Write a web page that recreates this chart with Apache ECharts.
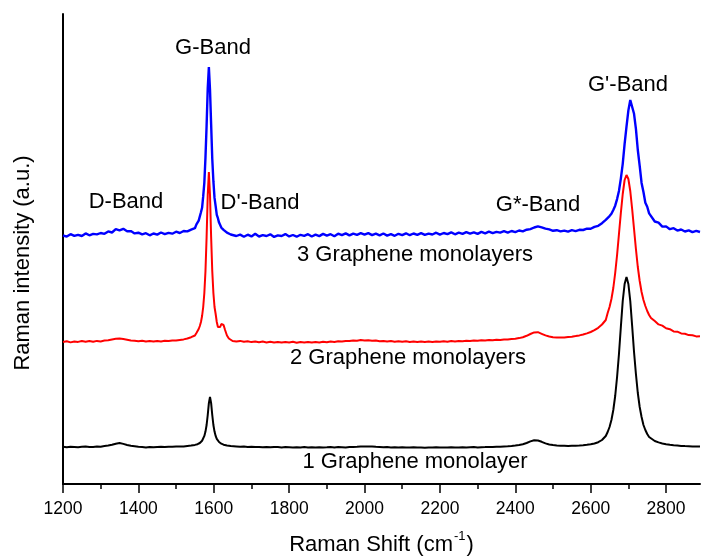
<!DOCTYPE html>
<html>
<head>
<meta charset="utf-8">
<script src="https://cdn.jsdelivr.net/npm/echarts@6/dist/echarts.min.js"></script>
<style>
html,body{margin:0;padding:0;background:#fff;}
#chart{width:701px;height:558px;}
</style>
</head>
<body>
<div id="chart"></div>
<script>
// Raman shift (cm^-1)
const ramanShift = [
1200,1210,1220,1230,1240,1250,1260,1270,1280,1290,1300,1310,1320,1330,1340,1350,1360,1370,1380,1390,1400,1410,1420,1430,1440,1450,1460,1470,1480,1490,1500,1510,1520,1530,1540,1550,
1554,1557,1560,1563,1566,1569,1572,1575,1578,1581,1584,1587,1590,1593,1596,1599,1602,1605,1608,1611,1614,1617,1620,1623,1626,1630,1635,1640,1645,
1650,1660,1670,1680,1690,1700,1710,1720,1730,1740,
1750,1760,1770,1780,1790,1800,1810,1820,1830,1840,
1850,1860,1870,1880,1890,1900,1910,1920,1930,1940,
1950,1960,1970,1980,1990,2000,2010,2020,2030,2040,
2050,2060,2070,2080,2090,2100,2110,2120,2130,2140,
2150,2160,2170,2180,2190,2200,2210,2220,2230,2240,
2250,2260,2270,2280,2290,2300,2310,2320,2330,2340,
2350,2360,2370,2380,2390,2400,2410,2420,2430,2440,
2450,2460,2470,2480,2490,2500,2510,2520,2530,2540,
2550,2560,2570,2580,2590,2600,2610,2620,2630,2640,
2645,2650,2655,2660,2665,2670,2675,2680,2685,2690,2695,2700,2705,2710,2715,2720,2725,2730,2735,2740,2745,2750,2755,2760,
2770,2780,2790,2800,2810,2820,2830,2840,2850,2860,2870,2880,2890
];

// 1 graphene monolayer (black, lowest trace)
const oneLayer = [
37.2,36.8,37.3,37.0,36.7,37.2,37.4,36.9,37.1,37.5,37.3,37.9,38.4,39.2,40.3,41.0,40.1,39.0,38.2,37.8,37.2,37.0,36.6,37.1,36.8,37.0,37.2,36.9,37.3,37.2,37.5,37.6,37.6,38.1,38.4,39.1,
39.4,39.8,40.3,41.0,42.0,43.3,45.2,48.1,52.4,59.0,69.0,80.8,87.0,80.8,69.0,59.0,52.4,48.1,45.2,43.3,42.0,41.0,40.3,39.8,39.3,38.9,38.5,38.2,38.0,
37.8,37.6,37.3,37.4,37.0,37.2,36.9,37.1,36.8,37.0,
36.7,37.0,36.9,36.6,36.9,36.7,36.5,36.8,36.6,36.9,
36.5,36.7,36.4,36.8,36.6,36.7,36.9,36.6,37.0,36.8,
36.6,36.9,37.1,37.2,37.5,37.6,37.4,37.5,37.2,37.0,
36.8,36.9,36.6,36.7,36.5,36.8,36.6,36.4,36.7,36.5,
36.6,36.3,36.6,36.4,36.7,36.5,36.6,36.4,36.7,36.5,
36.6,36.8,36.5,36.7,36.9,36.6,36.8,36.9,37.1,36.9,
37.2,37.3,37.5,37.7,38.0,38.4,38.9,39.7,41.0,42.6,
43.8,43.5,42.2,40.6,39.5,38.9,38.5,38.3,38.2,38.1,
38.2,38.3,38.5,38.8,39.2,39.7,40.5,41.8,44.0,48.0,
52,57,64,74,88,107,130,157,183,200,207,200,183,158,132,110,91,77,67,59,54,50,47,45.2,
43.0,41.6,40.5,39.8,39.2,38.7,38.4,38.1,37.9,37.8,37.6,37.6,37.5
];

// 2 graphene monolayers (red, middle trace)
const twoLayers = [
142.0,142.8,141.6,142.5,142.1,143.0,142.3,142.9,142.2,143.1,142.6,143.4,143.8,144.6,145.2,145.6,145.0,144.3,143.6,143.2,142.7,143.3,142.5,142.9,142.4,143.1,142.6,143.2,143.0,143.6,143.4,144.0,144.6,145.5,146.8,148.5,
151,152.5,155,158,162,168,177,191,213,247,289,312,289,247,213,191,177,170,162,157,155.5,157,160,161,159,154,148.5,145.5,144,
143.0,142.4,143.1,142.2,142.8,141.9,142.6,141.8,142.4,141.6,
142.3,141.5,142.1,141.4,142.0,141.6,142.2,141.3,142.0,141.5,
142.1,141.4,142.0,141.6,142.3,141.8,142.5,142.1,142.8,142.4,
143.1,142.9,143.6,143.3,143.9,143.5,143.8,143.2,143.5,142.8,
143.1,142.5,142.9,142.3,142.8,142.2,142.7,142.1,142.6,142.0,
142.5,141.9,142.4,142.0,142.6,142.2,142.8,142.3,142.9,142.5,
143.0,142.7,143.2,142.9,143.5,143.2,143.8,143.5,144.0,143.7,
144.3,144.1,144.6,144.5,145.1,145.3,145.9,146.8,148.2,150.0,
151.6,151.8,150.2,148.6,147.5,146.8,146.4,146.6,146.5,147.0,
147.3,147.9,148.6,149.5,150.6,152.0,153.8,156.2,159.5,164.0,
171,177,185,196,211,229,250,271,290,304,309,305,293,275,255,235,217,203,192,184,178,173,169,166,
162.9,159.6,158.4,155.7,154.8,152.6,152.3,150.6,150.3,148.9,148.8,147.6,147.8
];

// 3 graphene monolayers (blue, top trace)
const threeLayers = [
248.5,247.4,249.8,248.1,249.2,248.0,250.6,248.7,250.1,249.6,251.0,250.2,252.6,251.5,254.8,253.6,255.2,252.8,252.9,250.6,251.3,249.6,250.8,248.7,250.5,249.4,251.5,249.9,251.2,250.3,252.3,251.0,253.0,252.6,254.4,255.8,
259.6,258.8,263.4,264.1,271.7,276.2,287.8,301.4,326.6,358.5,395.6,417,394.4,359.7,325.3,302.8,286.1,277.9,269.2,265.8,261.4,260.3,256.4,257.8,254.2,255.1,251.3,252.4,249.5,
249.8,248.0,249.4,247.3,249.3,247.6,250.2,247.5,248.8,248.0,
249.7,247.1,248.6,248.0,249.9,247.6,249.0,247.3,249.2,248.2,
249.8,247.5,249.4,247.9,250.1,248.4,249.8,247.8,250.3,248.8,
250.6,248.6,250.4,249.1,250.8,249.3,250.9,248.9,250.4,248.7,
250.5,248.4,249.8,248.2,250.2,248.9,250.7,248.8,250.5,249.2,
250.9,249.1,250.4,249.5,251.3,249.4,251.0,249.8,251.6,249.7,
251.3,250.1,251.9,250.4,251.7,250.1,252.1,250.6,252.4,250.9,
252.2,251.3,252.8,251.4,253.0,251.9,253.5,252.7,254.3,254.9,
256.5,257.6,256.6,255.4,254.6,253.2,253.8,252.6,253.4,252.3,
253.8,252.9,254.2,254.0,255.3,255.2,257.1,258.2,260.8,264.2,
265.1,267.9,270.2,274.0,278.3,284.9,293.1,305.4,320.2,340.1,357.3,373.6,384.0,383.0,370.2,355.1,334.0,318.2,301.1,292.0,281.2,277.3,270.6,268.9,
262.5,261.3,257.4,257.6,254.8,255.8,253.4,254.5,252.5,253.7,251.9,253.1,252.0
];

const majorTicks = [1200,1400,1600,1800,2000,2200,2400,2600,2800];
const minorTicks = [1300,1500,1700,1900,2100,2300,2500,2700];

const bandLabels = ['G-Band','D-Band',"D'-Band",'G*-Band',"G'-Band"];
const traceLabels = ['3 Graphene monolayers','2 Graphene monolayers','1 Graphene monolayer'];

const FONT = 'Liberation Sans, Arial, Helvetica, sans-serif';
const pair = ys => ramanShift.map((x, i) => [x, ys[i]]);

const chart = echarts.init(document.getElementById('chart'), null, {renderer: 'canvas'});

function txt(text, x, y, rot) {
  return {
    type: 'text', x: x, y: y, rotation: rot || 0, silent: true,
    style: {text: text, fill: '#000', font: '22px ' + FONT, align: 'center', verticalAlign: 'middle'}
  };
}

const option = {
  animation: false,
  backgroundColor: '#fff',
  grid: {left: 63, right: 1, top: 14, bottom: 74, containLabel: false, outerBoundsMode: 'none'},
  xAxis: [{
    type: 'value', min: 1200, max: 2890, interval: 200,
    position: 'bottom',
    axisLine: {show: true, lineStyle: {color: '#000', width: 2}},
    axisTick: {show: true, inside: false, length: 9, customValues: majorTicks, lineStyle: {color: '#000', width: 1.5}},
    axisLabel: {show: true, customValues: majorTicks, margin: 16, color: '#000', fontSize: 17.5, fontFamily: FONT,
      formatter: v => String(v)},
    splitLine: {show: false},
    name: '{a|Raman Shift (cm}{b|-1}{a|)}',
    nameLocation: 'middle', nameGap: 46,
    nameTextStyle: {
      rich: {
        a: {fontSize: 22, fontFamily: FONT, color: '#000', lineHeight: 26, verticalAlign: 'bottom'},
        b: {fontSize: 13, fontFamily: FONT, color: '#000', lineHeight: 26, verticalAlign: 'top', padding: [0, 1, 0, 1]}
      }
    }
  }, {
    type: 'value', min: 1200, max: 2890, interval: 200,
    position: 'bottom', gridIndex: 0,
    axisLine: {show: false},
    axisTick: {show: true, inside: false, length: 5, customValues: minorTicks, lineStyle: {color: '#000', width: 1.5}},
    axisLabel: {show: false},
    splitLine: {show: false}
  }],
  yAxis: {
    type: 'value', min: 0, max: 470,
    axisLine: {show: true, lineStyle: {color: '#000', width: 2}},
    axisTick: {show: false}, axisLabel: {show: false}, splitLine: {show: false}
  },
  series: [
    {name: traceLabels[0], type: 'line', data: pair(threeLayers), showSymbol: false, lineStyle: {color: '#0000ff', width: 2.4}, itemStyle: {color: '#0000ff'}, z: 2},
    {name: traceLabels[1], type: 'line', data: pair(twoLayers), showSymbol: false, lineStyle: {color: '#ff0000', width: 2}, itemStyle: {color: '#ff0000'}, z: 3},
    {name: traceLabels[2], type: 'line', data: pair(oneLayer), showSymbol: false, lineStyle: {color: '#000000', width: 2}, itemStyle: {color: '#000'}, z: 4}
  ],
  graphic: [
    txt(bandLabels[0], 213, 48),
    txt(bandLabels[1], 126, 202),
    txt(bandLabels[2], 260, 203),
    txt(bandLabels[3], 538, 205),
    txt(bandLabels[4], 628, 85),
    txt(traceLabels[0], 415, 255),
    txt(traceLabels[1], 408, 358),
    txt(traceLabels[2], 415, 462),
    txt('Raman intensity (a.u.)', 23, 263, Math.PI / 2)
  ]
};
chart.setOption(option);
</script>
</body>
</html>
